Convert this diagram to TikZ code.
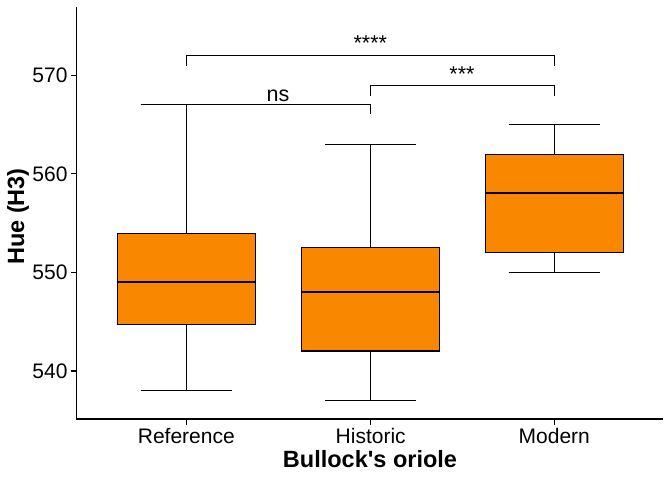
\documentclass[tikz,border=0pt]{standalone}
\usepackage{fontspec}
\setmainfont{Liberation Sans}
\usetikzlibrary{calc,positioning}
\definecolor{boxorange}{RGB}{250,135,0}

\begin{document}
\begin{tikzpicture}[
  x=1pt,y=-1pt,
  axis line/.style={line width=1.1pt},
  whisker/.style={line width=1.1pt},
  box/.style={draw=black,fill=boxorange,line width=1.1pt},
  median/.style={line width=2.2pt},
  tick label/.style={font=\fontsize{21}{25}\selectfont,inner sep=0pt},
  axis title/.style={font=\fontsize{23.5}{28}\selectfont\bfseries,inner sep=0pt},
  sig/.style={font=\fontsize{21.5}{25}\selectfont,inner sep=0pt},
  ]
  \useasboundingbox (0,0) rectangle (672,480);

  % axes
  \draw[axis line] (76.7,7) -- (76.7,419) -- (663,419);

  \foreach \v/\y in {540/371,550/272.4,560/173.8,570/75.3}
  {
    \draw[axis line] (71,\y) -- (76.7,\y);
    \node (ytick_\v) [tick label,anchor=east] at (67.7,\y) {\v};
  }

  % name/x/lower/q1/median/q3/upper
  \foreach \g/\x/\lw/\qa/\md/\qb/\uw in {%
      Reference/186.3/390.3/324.3/281.7/233.3/104.3,%
      Historic/370.7/400.3/351/292/247.3/144.3,%
      Modern/554.3/272.3/252.3/192.7/154.3/124.3}
  {
    \draw[whisker] (\x,\lw) -- (\x,\qa);
    \draw[whisker] (\x,\qb) -- (\x,\uw);
    \draw[whisker] ($(\x,\lw)+(-45.7,0)$) -- ($(\x,\lw)+(45.7,0)$);
    \draw[whisker] ($(\x,\uw)+(-45.7,0)$) -- ($(\x,\uw)+(45.7,0)$);
    \draw[box] ($(\x,\qa)+(-69,0)$) rectangle ($(\x,\qb)+(69,0)$);
    \draw[median] ($(\x,\md)+(-69,0)$) -- ($(\x,\md)+(69,0)$);
    \draw[axis line] (\x,419) -- (\x,424.5);
    \node (xtick_\g) [tick label,anchor=base] at (\x,443.3) {\g};
  }

  \node (ytitle) [axis title,rotate=90] at (18,216.5) {Hue (H3)};
  \node (xtitle) [axis title,anchor=base] at (370,467.3) {Bullock\textquotesingle s oriole};

  % comparisons
  \draw[whisker] (186.3,114.3) -- (186.3,104.3) -- (370.7,104.3) -- (370.7,114.3);
  \node (sig_ref_his) [sig,anchor=base] at (278,101) {ns};
  \draw[whisker] (370.7,95.7) -- (370.7,85.7) -- (554.3,85.7) -- (554.3,95.7);
  \node (sig_his_mod) [sig,anchor=base] at (462,81) {***};
  \draw[whisker] (186.3,65.7) -- (186.3,55.3) -- (554.3,55.3) -- (554.3,65.7);
  \node (sig_ref_mod) [sig,anchor=base] at (370.3,50.3) {****};

\end{tikzpicture}
\end{document}
